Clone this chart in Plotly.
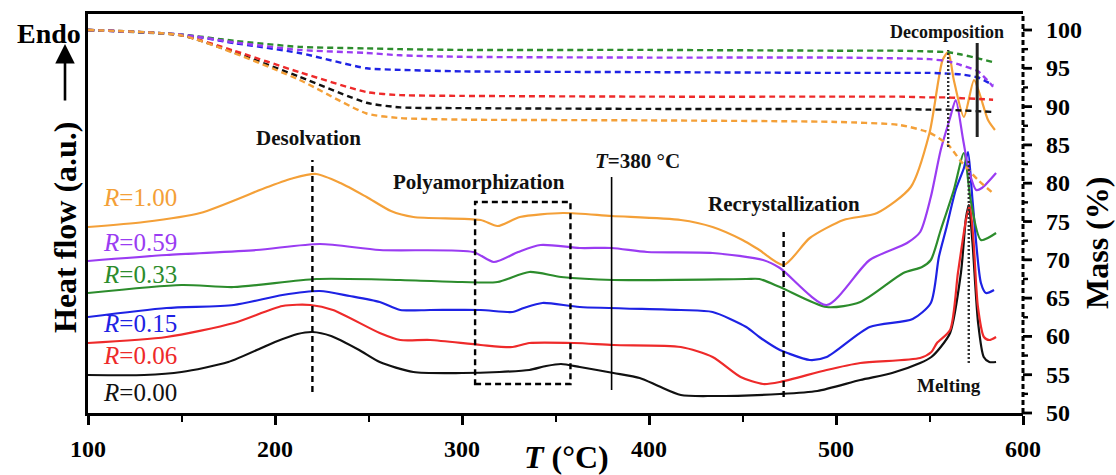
import plotly.graph_objects as go

# ---------------- DSC: heat flow (a.u.) vs temperature (°C) ----------------
t_r000 = [100, 130, 150, 175, 200, 212, 220, 230, 245, 256, 274, 300, 320, 336, 345, 353, 363,
          381, 395, 405, 417, 434, 470, 490, 513, 530, 545, 551, 556, 561, 566.8, 569.5, 571,
          573, 576, 579, 582, 585.6]
hf_r000 = [3.8, 3.8, 4.1, 5.1, 7.1, 7.9, 8.1, 7.7, 6.3, 5.1, 4.1, 4.0, 4.1, 4.3, 4.7, 4.9, 4.6,
           4.0, 3.5, 2.7, 1.8, 1.7, 1.9, 2.2, 3.3, 4.0, 5.0, 5.6, 6.6, 8.0, 14.0, 19.5, 20.8,
           17.0, 9.0, 5.6, 5.1, 5.1]

t_r006 = [100, 142, 178, 204, 219, 231, 256, 267, 283, 310, 327, 336, 360, 381, 417, 434, 449,
          461, 470, 495, 513, 545, 551, 554, 561, 565.2, 569.5, 571.5, 573.5, 575.9, 579.1, 582,
          585.6]
hf_r006 = [7.0, 7.6, 9.0, 10.7, 10.8, 10.3, 8.0, 7.3, 7.3, 6.8, 6.6, 7.0, 7.0, 6.8, 6.6, 5.6, 3.6,
           2.9, 3.1, 4.3, 5.0, 5.5, 6.1, 7.0, 8.3, 14.0, 19.3, 20.8, 17.3, 10.6, 7.6, 7.3, 7.6]

t_r015 = [100, 142, 178, 204, 224, 240, 256, 267, 283, 310, 327, 333, 343, 363, 417, 434, 452,
          459, 470, 474, 486, 495, 518, 541, 550.7, 555, 559, 564, 568.4, 570.6, 573, 577.5,
          580.2, 584.5]
hf_r015 = [9.6, 10.5, 10.8, 11.8, 12.2, 11.7, 11.1, 10.3, 10.3, 10.3, 10.1, 10.5, 11.0, 10.6, 10.3,
           10.1, 8.6, 7.6, 6.3, 6.0, 5.3, 5.6, 8.6, 9.4, 11.0, 15.6, 18.5, 22.3, 24.5, 26.1, 21.3,
           13.0, 12.0, 12.3]

t_r033 = [100, 150, 178, 222, 267, 300, 319, 336, 353, 381, 452, 459, 470, 495, 513, 536, 546,
          550.7, 556, 563, 568.4, 572, 577.5, 585.6]
hf_r033 = [12.0, 12.8, 12.6, 13.4, 13.3, 13.1, 13.1, 14.1, 13.6, 13.3, 13.4, 13.4, 12.6, 10.6,
           11.1, 14.0, 14.6, 15.3, 18.3, 22.3, 26.0, 21.3, 17.3, 18.0]

t_r059 = [100, 142, 190, 224, 256, 306, 317, 330, 342, 363, 380, 399, 434, 461, 470, 495, 518,
          538, 545, 550.7, 556, 561, 564, 568, 571, 575, 578, 585.6]
hf_r059 = [15.2, 15.8, 16.3, 16.9, 16.3, 16.1, 15.1, 16.1, 16.8, 16.5, 16.5, 16.1, 16.0, 15.3,
           14.5, 10.8, 15.3, 17.0, 18.1, 21.6, 26.3, 29.5, 31.3, 27.3, 24.3, 22.3, 22.5, 24.0]

t_r100 = [100, 130, 160, 196, 210, 222, 235, 249, 262, 274, 310, 319, 331, 354, 380, 417, 434,
          450, 459, 472, 486, 504, 522, 540, 550, 557, 560, 563, 568.4, 573.8, 577, 581.3, 585]
hf_r100 = [18.6, 19.1, 20.0, 22.6, 23.5, 23.9, 23.0, 21.6, 20.2, 19.6, 19.3, 18.7, 19.6, 20.0,
           19.7, 19.3, 18.6, 17.3, 16.3, 14.8, 17.5, 19.3, 20.0, 22.6, 28.0, 35.3, 36.1, 33.3,
           29.6, 33.3, 31.8, 29.3, 28.3]

# ---------------- TGA: mass (%) vs temperature (°C) ----------------
tga_t = [100, 150, 178, 213, 249, 267, 300, 400, 500, 534, 550, 560, 567, 576, 584]
mass_r000 = [100, 99.3, 97.1, 93.9, 90.5, 89.9, 89.8, 89.7, 89.7, 89.7, 89.6, 89.6, 89.5, 89.4, 89.3]
mass_r006 = [100, 99.3, 97.3, 94.5, 91.9, 91.5, 91.4, 91.3, 91.3, 91.3, 91.2, 91.2, 91.1, 91.0, 90.9]
mass_r015 = [100, 99.4, 98.3, 97.0, 95.0, 94.8, 94.6, 94.5, 94.4, 94.4, 94.4, 94.3, 94.2, 93.8, 92.8]
mass_r033 = [100, 99.4, 98.6, 97.8, 97.6, 97.5, 97.4, 97.4, 97.3, 97.3, 97.2, 97.1, 96.8, 96.3, 95.8]
mass_r059 = [100, 99.4, 98.4, 97.4, 97.0, 96.7, 96.5, 96.4, 96.4, 96.3, 96.2, 95.9, 95.4, 94.6, 92.6]
mass_r100 = [100, 99.3, 97.0, 93.5, 89.1, 88.5, 88.3, 88.2, 88.0, 87.6, 86.6, 85.0, 82.8, 80.4, 78.7]

ratio_labels = ["R=0.00", "R=0.06", "R=0.15", "R=0.33", "R=0.59", "R=1.00"]
ratio_colors = ["#111111", "#EE2A2A", "#1E22E4", "#2C8C2C", "#9A3CF2", "#F4A038"]
label_hf = [2.1, 5.8, 9.0, 13.9, 17.1, 21.6]   # vertical position of each R label (a.u.)

dsc_sets = [(t_r000, hf_r000), (t_r006, hf_r006), (t_r015, hf_r015),
            (t_r033, hf_r033), (t_r059, hf_r059), (t_r100, hf_r100)]
tga_sets = [mass_r000, mass_r006, mass_r015, mass_r033, mass_r059, mass_r100]

# Transition markers (°C) and their vertical extents on the heat-flow axis
desolv_T, desolv_span = 220, (2.1, 25.3)
poly_box_T, poly_box_span = (307, 358), (2.9, 21.1)
cut_T, cut_span = 380, (2.3, 23.6)
recryst_T, recryst_span = 472, (1.6, 18.1)
decomp_T, decomp_span = 575.5, (27.6, 37.0)
decomp_dot_T, decomp_dot_span = 560, (26.6, 36.3)
melt_T, melt_span = 571, (5.0, 25.3)

# axis ticks and ranges
temp_ticks = [100, 200, 300, 400, 500, 600]
mass_major = [50, 55, 60, 65, 70, 75, 80, 85, 90, 95, 100]
MASS_RANGE = [50, 102.09]
HF_RANGE = [0, 39.9]

# ---------------- figure ----------------
W, H = 1116, 475
ML, MR, MT, MB = 88, 93, 14, 62
PW, PH = W - ML - MR, H - MT - MB
SERIF = "Liberation Serif"


def px(xp):
    return (xp - ML) / PW


def py(yp):
    return (H - MB - yp) / PH


def mass_to_paper(m):
    return (m - MASS_RANGE[0]) / (MASS_RANGE[1] - MASS_RANGE[0])


fig = go.Figure()

for mass, color, name in zip(tga_sets, ratio_colors, ratio_labels):
    fig.add_trace(go.Scatter(
        x=tga_t, y=mass, yaxis="y2", mode="lines", name=name + " TGA",
        line=dict(color=color, width=2.4, dash="6px,4px", shape="spline", smoothing=0.6),
        showlegend=False, hoverinfo="skip"))

for (tt, hf), color, name in zip(dsc_sets, ratio_colors, ratio_labels):
    fig.add_trace(go.Scatter(
        x=tt, y=hf, mode="lines", name=name,
        line=dict(color=color, width=2.2, shape="spline", smoothing=0.7),
        showlegend=False))

# ratio labels
for name, color, yv in zip(ratio_labels, ratio_colors, label_hf):
    fig.add_annotation(x=107, y=yv, xref="x", yref="y", xanchor="left", yanchor="middle",
                       text="<i>R</i>" + name[1:], showarrow=False,
                       font=dict(family=SERIF, size=25, color=color))

# transition lines
def vline(xv, span, dash, width=2.4, color="black"):
    fig.add_shape(type="line", x0=xv, x1=xv, y0=span[0], y1=span[1], xref="x", yref="y",
                  line=dict(color=color, width=width, dash=dash))

vline(desolv_T, desolv_span, "6px,4px")
vline(cut_T, cut_span, "solid", width=1.6)
vline(recryst_T, recryst_span, "6px,4px")
vline(decomp_T, decomp_span, "solid", width=3, color="#222222")
vline(decomp_dot_T, decomp_dot_span, "2px,2px", width=2.4, color="#333333")
vline(melt_T, melt_span, "2px,2px", width=2.4, color="#333333")
fig.add_shape(type="rect", x0=poly_box_T[0], x1=poly_box_T[1], y0=poly_box_span[0],
              y1=poly_box_span[1], xref="x", yref="y",
              line=dict(color="black", width=2.4, dash="6px,4px"))

# event labels
def label(xv, yv, text, size=21):
    fig.add_annotation(x=xv, y=yv, xref="x", yref="y", text="<b>" + text + "</b>",
                       showarrow=False, xanchor="center", yanchor="middle",
                       font=dict(family=SERIF, size=size, color="#111111"))

label(218, 27.5, "Desolvation")
label(309, 23.1, "Polyamorphization")
label(393.6, 25.2, "<i>T</i>=380 °C")
label(472, 20.9, "Recrystallization")
label(559.5, 38.1, "Decomposition", size=18)
label(560.5, 2.8, "Melting", size=19)

# dashed right (mass) axis: line, tick marks and tick labels
fig.add_shape(type="line", xref="paper", yref="paper", x0=1, x1=1, y0=0, y1=1,
              line=dict(color="black", width=3, dash="5px,3px"))
for m in mass_major:
    yp = mass_to_paper(m)
    fig.add_shape(type="line", xref="paper", yref="paper", x0=1, x1=px(ML + PW + 9),
                  y0=yp, y1=yp, line=dict(color="black", width=2.8))
    fig.add_annotation(xref="paper", yref="paper", x=px(1044), y=yp, xanchor="left",
                       yanchor="middle", text=str(m), showarrow=False,
                       font=dict(family=SERIF, size=24, color="black", weight="bold"))
    if m < 100:
        yp2 = mass_to_paper(m + 2.5)
        fig.add_shape(type="line", xref="paper", yref="paper", x0=1, x1=px(ML + PW + 5),
                      y0=yp2, y1=yp2, line=dict(color="black", width=2.4))

# axis titles and the endothermic direction marker
def paper_text(xp, yp, text, size, angle=0, xanchor="center"):
    fig.add_annotation(xref="paper", yref="paper", x=px(xp), y=py(yp), text=text,
                       textangle=angle, showarrow=False, xanchor=xanchor, yanchor="middle",
                       font=dict(family=SERIF, size=size, color="black"))

paper_text(83, 33, "<b>Endo</b>", 28, xanchor="right")
paper_text(65, 227, "<b>Heat flow (a.u.)</b>", 32, angle=-90)
paper_text(1097, 243, "<b>Mass (%)</b>", 32, angle=-90)
paper_text(566, 457, "<b><i>T</i> (°C)</b>", 32)
fig.add_annotation(xref="paper", yref="paper", x=px(65), y=py(44), ax=0, ay=58, text="",
                   showarrow=True, arrowhead=2, arrowsize=1.5, arrowwidth=2.6,
                   arrowcolor="black", standoff=0)

tickfont = dict(family=SERIF, size=24, color="black", weight="bold")

fig.update_layout(
    width=W, height=H,
    margin=dict(l=ML, r=MR, t=MT, b=MB, autoexpand=False),
    paper_bgcolor="white", plot_bgcolor="white",
    xaxis=dict(range=[100, 600], tickvals=temp_ticks,
               showline=True, linewidth=3, linecolor="black", mirror=True,
               ticks="outside", ticklen=9, tickwidth=2.8, tickcolor="black",
               minor=dict(ticks="outside", ticklen=6, tickwidth=2.4, tickcolor="black",
                          tick0=150, dtick=100),
               showgrid=False, zeroline=False, tickfont=tickfont, ticklabelstandoff=3),
    yaxis=dict(range=HF_RANGE, showline=True, linewidth=3, linecolor="black",
               showticklabels=False, ticks="", showgrid=False, zeroline=False),
    yaxis2=dict(range=MASS_RANGE, overlaying="y", side="right", showline=False,
                showticklabels=False, ticks="", showgrid=False, zeroline=False),
)

fig.write_html("out.html")
